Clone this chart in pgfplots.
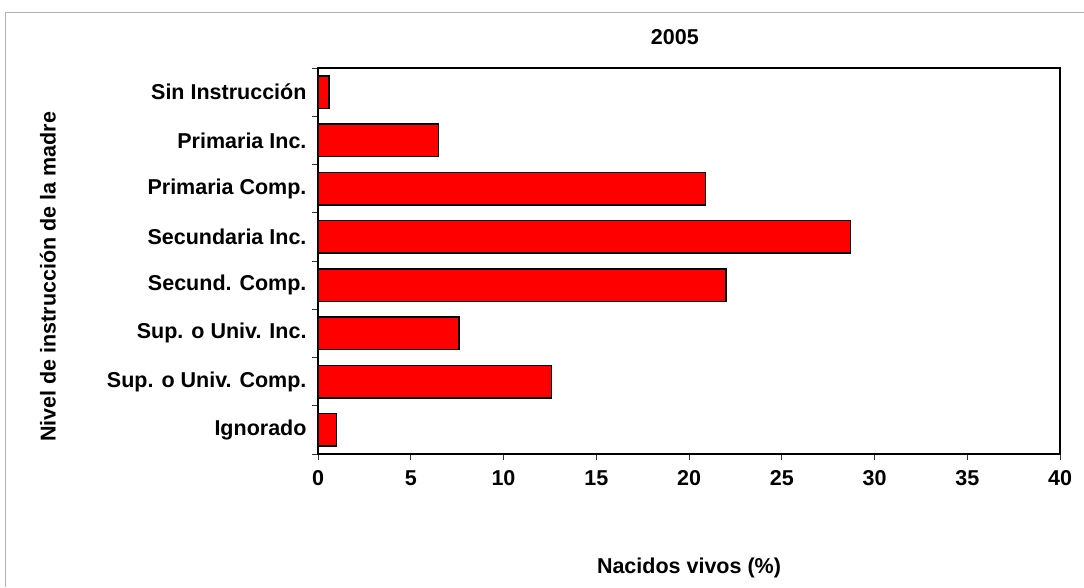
\documentclass[border=0pt]{standalone}
\usepackage{pgfplots}
\pgfplotsset{compat=1.18}
\usepackage{fontspec}
\setmainfont{Liberation Sans}
\pgfplotstableread{
y x
0 0.6
1 6.5
2 20.9
3 28.7
4 22.0
5 7.6
6 12.6
7 1.0
}\datatable
\begin{document}
\begin{tikzpicture}[font=\fontsize{21.5}{25}\selectfont\bfseries]
\useasboundingbox (0pt,0pt) rectangle (1084pt,587pt);
\draw[gray!60, line width=1pt] (5pt,0pt) -- (5pt,574pt) -- (1084pt,574pt);
\begin{axis}[
  at={(318pt,133pt)}, anchor=south west,
  scale only axis, width=742pt, height=386pt,
  xmin=0, xmax=40, xtick={0,5,...,40},
  ymin=-0.5, ymax=7.5, y dir=reverse,
  ytick={-0.5,0.5,...,7.5},
  yticklabels={Sin Instrucción,Primaria Inc.,Primaria Comp.,Secundaria Inc.,Secund. Comp.,Sup. o Univ. Inc.,Sup. o Univ. Comp.,Ignorado,{}},
  yticklabel style={yshift=-24.1pt, anchor=east, xshift=-2pt},
  xticklabel style={yshift=-7pt},
  xtick pos=bottom, ytick pos=left,
  xbar, bar width=32.5pt,
  axis line style={black, line width=1.5pt},
  tick align=outside, major tick length=6pt,
  tick style={black!80, line width=1pt},
  /pgf/number format/assume math mode=true,
  title={2005},
  title style={at={(0.481,1.065)}, anchor=center},
  xlabel={Nacidos vivos (\%)},
  xlabel style={at={(0.5,-0.295)}, anchor=center},
  ylabel={Nivel de instrucción de la madre},
  ylabel style={at={(-0.364,0.459)}, anchor=center},
]
\addplot[fill=red, draw=black, line width=1.5pt] table[x=x, y=y] {\datatable};
\end{axis}
\end{tikzpicture}
\end{document}
